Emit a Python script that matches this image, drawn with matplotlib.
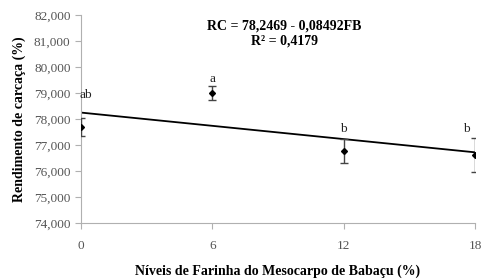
import matplotlib
matplotlib.use("Agg")
import matplotlib.pyplot as plt
import numpy as np

levels = [0, 6, 12, 18]
rendimento = [77.69, 79.0, 76.77, 76.62]
erro = [0.35, 0.28, 0.48, 0.65]
letras = ["ab", "a", "b", "b"]
intercept = 78.2469
slope = -0.08492
yticks = [74, 75, 76, 77, 78, 79, 80, 81, 82]

plt.rcParams['font.family'] = ['Liberation Serif', 'DejaVu Serif']

fig = plt.figure(figsize=(4.83, 2.8), dpi=100)
ax = fig.add_axes([81/483, 1-223/280, (475-81)/483, (223-15)/280])

xl = np.array([0, 18])
ax.plot(xl, intercept + slope*xl, color='black', lw=1.3, zorder=2)
ax.errorbar(levels, rendimento, yerr=erro, fmt='D', ms=3, color='black',
            ecolor='#444444', elinewidth=1, capsize=3, capthick=1, zorder=3)
# letter annotations
label_pos = [(0.2, 78.92), (6, 79.55), (12, 77.6), (17.6, 77.6)]
for (x, y), l in zip(label_pos, letras):
    ax.text(x, y, l, ha='center', va='center', fontsize=9.5, color='#222222')

ax.text(9.3, 81.58, "RC = 78,2469 - 0,08492FB", ha='center', va='center',
        fontsize=10, fontweight='bold')
ax.text(9.3, 81.0, "R² = 0,4179", ha='center', va='center',
        fontsize=10, fontweight='bold')

ax.set_xlim(0, 18)
ax.set_ylim(74, 82)
ax.set_xticks(levels)
ax.set_yticks(yticks)
ax.set_yticklabels([f"{v},000" for v in yticks])
for s in ['top', 'right']:
    ax.spines[s].set_visible(False)
for s in ['left', 'bottom']:
    ax.spines[s].set_color('#b0b0b0')
ax.tick_params(colors='#b0b0b0', labelcolor='#555555', labelsize=9.5, length=4, direction='out')
ax.tick_params(axis='x', pad=8)

ax.set_xlabel("Níveis de Farinha do Mesocarpo de Babaçu (%)", fontsize=10,
              fontweight='bold', labelpad=9)
ax.set_ylabel("Rendimento de carcaça (%)", fontsize=10, fontweight='bold', labelpad=6)

fig.savefig("out.png", dpi=100)
